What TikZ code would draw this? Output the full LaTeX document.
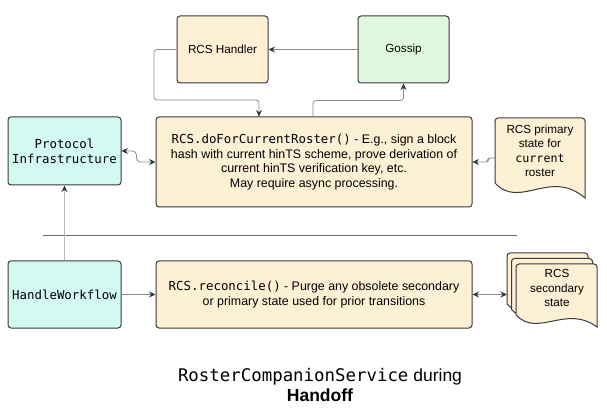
\documentclass[tikz,border=0pt]{standalone}
\usepackage{fontspec}
\setmainfont{Liberation Sans}
\setmonofont{DejaVu Sans Mono}[Scale=1.0]
\usetikzlibrary{arrows.meta}
\definecolor{orangefill}{HTML}{FEF0D5}
\definecolor{greenfill}{HTML}{E0F8DF}
\definecolor{cyanfill}{HTML}{D3F9F3}
\definecolor{bordc}{HTML}{3A3A3A}
\definecolor{linec}{HTML}{8C8C8C}
\definecolor{arrowc}{HTML}{2F3A45}
\definecolor{sepc}{HTML}{6E6E6E}
\definecolor{vlinec}{HTML}{B8B8B8}
\tikzset{
  boxstyle/.style={draw=bordc, line width=1pt, rounded corners=3pt, inner sep=0pt,
    align=center, font=\fontsize{11.7}{15}\selectfont},
  bigtext/.style={font=\fontsize{12.4}{14.8}\selectfont},
  orangebox/.style={boxstyle, fill=orangefill},
  greenbox/.style={boxstyle, fill=greenfill},
  cyanbox/.style={boxstyle, fill=cyanfill},
  docshape/.style={draw=bordc, line width=1pt, fill=orangefill},
  doctext/.style={align=center, inner sep=0pt, font=\fontsize{11.7}{14.5}\selectfont},
  conn/.style={draw=linec, line width=0.8pt, -{Stealth[length=6.5pt,width=6pt,color=arrowc]}},
  dblconn/.style={draw=linec, line width=0.8pt, {Stealth[length=6.5pt,width=6pt,color=arrowc]}-{Stealth[length=6.5pt,width=6pt,color=arrowc]}},
}
\begin{document}
\begin{tikzpicture}[x=1pt,y=-1pt]
\useasboundingbox (0,0) rectangle (607,411);

% top boxes
\node[orangebox, minimum width=91pt, minimum height=67pt] (handler) at (222.5,49.5) {RCS Handler};
\node[greenbox, minimum width=91pt, minimum height=67pt] (gossip) at (403.5,49.5) {Gossip};

% main upper
\node[cyanbox, bigtext, minimum width=113pt, minimum height=68pt] (proto) at (64.5,151) {\ttfamily Protocol\\\ttfamily Infrastructure};
\node[orangebox, bigtext, minimum width=316pt, minimum height=90pt] (main) at (314,162)
  {\texttt{RCS.doForCurrentRoster()} - E.g., sign a block\\
   hash with current hinTS scheme, prove derivation of\\
   current hinTS verification key, etc.\\
   May require async processing.};

% document (primary state)
\begin{scope}[shift={(495,118)}]
  \draw[docshape] (0,65) [rounded corners=3pt] -- (0,0) -- (90,0) [sharp corners] -- (90,80)
     .. controls (55,50) and (25,92) .. (0,65) -- cycle;
\end{scope}
\node[doctext] (doc1) at (540,151) {RCS primary\\state for\\\texttt{current}\\roster};
\coordinate (doc1L) at (495,158);

% lower row
\node[cyanbox, bigtext, minimum width=113pt, minimum height=67pt] (hw) at (64.5,294.5) {\ttfamily HandleWorkflow};
\node[orangebox, bigtext, minimum width=316pt, minimum height=67pt] (main2) at (314,294.5)
  {\texttt{RCS.reconcile()} - Purge any obsolete secondary\\
   or primary state used for prior transitions};

% multi document (secondary state)
\foreach \sx/\sy in {507/253, 511.5/258.5, 516/264}{
  \begin{scope}[shift={(\sx,\sy)}]
    \draw[docshape] (0,51) [rounded corners=3pt] -- (0,0) -- (81,0) [sharp corners] -- (81,63)
       .. controls (50,40) and (22,74) .. (0,51) -- cycle;
  \end{scope}
}
\node[doctext] (docs) at (557,288) {RCS\\secondary\\state};
\coordinate (docsL) at (507,294.5);

% separator
\coordinate (sepL) at (43,235);
\coordinate (sepR) at (517,235);
\draw[sepc, line width=0.9pt] (sepL) -- (sepR);

% connectors
\draw[conn] (gossip.west) -- (handler.east);
\draw[conn, rounded corners=3pt] (handler.west) -| (154,100) -| ([xshift=-55pt]main.north);
\draw[conn, rounded corners=3pt] ([xshift=-1pt]main.north) |- ([yshift=-17pt]gossip.south) -- (gossip.south);
\draw[dblconn, rounded corners=4pt] (proto.east) -- ++(15,0) |- (main.west);
\draw[conn, rounded corners=3pt] (doc1L) -- ++(-7,0) |- (main.east);
\draw[draw=vlinec, line width=1.5pt, -{Stealth[length=6.5pt,width=6pt,color=arrowc]}] (hw.north) -- (proto.south);
\draw[conn] (hw.east) -- (main2.west);
\draw[dblconn] (main2.east) -- (docsL);

% title
\node[align=center, inner sep=0pt, font=\fontsize{17.5}{20}\selectfont] (title) at (320,385)
  {{\fontsize{17.4}{20}\ttfamily RosterCompanionService} during\\\textbf{Handoff}};
\end{tikzpicture}
\end{document}
